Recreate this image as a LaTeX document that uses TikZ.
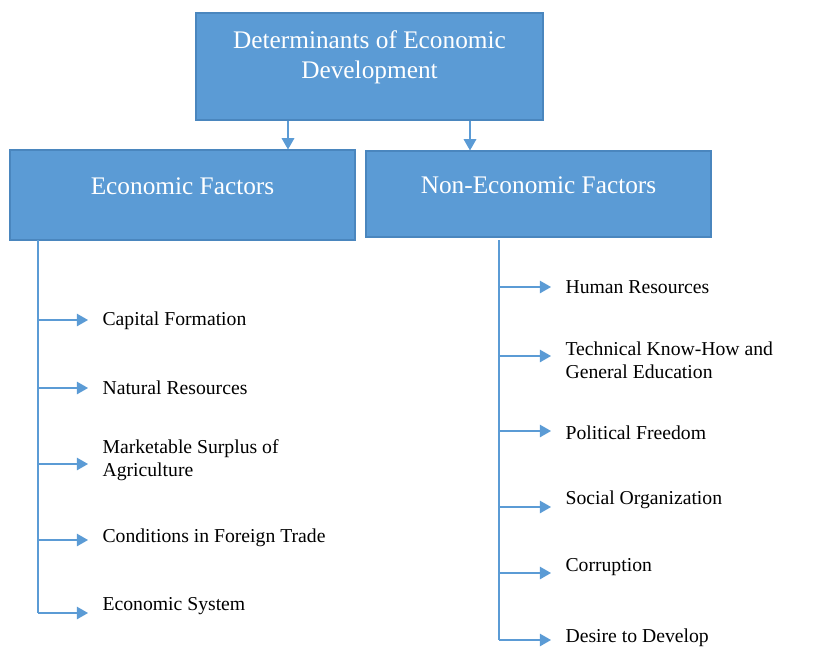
\documentclass[tikz,border=0pt]{standalone}
\usepackage{fontspec}
\setmainfont{Liberation Serif}
\usetikzlibrary{arrows.meta}
\definecolor{boxblue}{HTML}{5B9BD5}
\definecolor{boxedge}{HTML}{4A86BE}

\begin{document}
\begin{tikzpicture}[x = 0.025cm, y = -0.025cm, line width = 0.8pt,
		head/.style = {draw = boxedge, fill = boxblue, text = white, font = \fontsize{18}{21}\selectfont, align = center, inner sep = 0pt, text depth = 12pt},
		leaf/.style = {anchor = west, font = \fontsize{14}{16.5}\selectfont, align = left, inner xsep = 0.35cm, inner ysep = 0pt},
		link/.style = {draw = boxblue, -{Triangle[length = 8pt, width = 9pt]}}]

		\useasboundingbox (0,0) rectangle (818,659);

		\node [head, text depth = 17pt, minimum width = 8.675cm, minimum height = 2.675cm] (top) at (369.5,66.5) {Determinants of Economic\\Development};
		\node [head, minimum width = 8.625cm, minimum height = 2.25cm] (eco) at (182.5,195) {Economic Factors};
		\node [head, minimum width = 8.625cm, minimum height = 2.15cm] (non) at (538.5,194) {Non-Economic Factors};

		\draw [link] (top.south -| 288,0) -- (eco.north -| 288,0);
		\draw [link] (top.south -| 470,0) -- (non.north -| 470,0);

		% economic factors
		\node [leaf] (capital) at (88,321) {Capital Formation};
		\node [leaf] (natural) at (88,388) {Natural Resources};
		\node [leaf] (surplus) at (88,460) {Marketable Surplus of\\Agriculture};
		\node [leaf] (trade) at (88,538) {Conditions in Foreign Trade};
		\node [leaf] (system) at (88,606) {Economic System};

		\coordinate (etop) at (38,240);
		\draw [draw = boxblue] (etop) -- (38,613);
		\foreach \n/\y in {capital/320, natural/388, surplus/464, trade/540, system/613}
			\draw [link] (38,\y) -- (\n.west |- 0,\y);

		% non-economic factors
		\node [leaf] (human) at (551,287) {Human Resources};
		\node [leaf] (know) at (551,360) {Technical Know-How and\\General Education};
		\node [leaf] (freedom) at (551,433) {Political Freedom};
		\node [leaf] (social) at (551,500) {Social Organization};
		\node [leaf] (corrupt) at (551,567) {Corruption};
		\node [leaf] (desire) at (551,638) {Desire to Develop};

		\coordinate (ntop) at (499,240);
		\draw [draw = boxblue] (ntop) -- (499,640);
		\foreach \n/\y in {human/287, know/356, freedom/431, social/507, corrupt/573, desire/640}
			\draw [link] (499,\y) -- (\n.west |- 0,\y);

\end{tikzpicture}
\end{document}
